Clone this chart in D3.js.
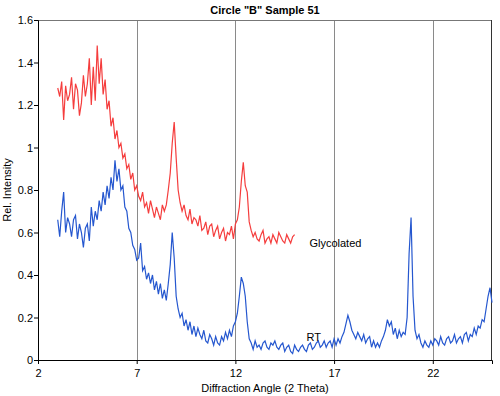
<!DOCTYPE html>
<html>
<head>
<meta charset="utf-8">
<script src="https://cdn.jsdelivr.net/npm/d3@7"></script>
<style>
  body { margin: 0; background: #fff; }
  text { font-family: "Liberation Sans", Arial, sans-serif; fill: #000; }
</style>
</head>
<body>
<div id="chart"></div>
<script>
// x grid of both scans: start angle and step (deg 2 theta)
var scanStart = 3.0;
var scanStep = 0.1;

// Glycolated scan, 3.0 .. 15.0
var glycolated = [
  1.28,1.24,1.31,1.13,1.29,1.22,1.25,1.33,1.18,1.30,
  1.27,1.15,1.21,1.34,1.24,1.30,1.42,1.20,1.38,1.22,
  1.48,1.30,1.42,1.25,1.32,1.18,1.22,1.10,1.14,1.04,
  1.08,1.00,1.02,0.95,0.97,0.90,0.92,0.85,0.88,0.80,
  0.82,0.77,0.75,0.79,0.72,0.74,0.69,0.75,0.71,0.67,
  0.72,0.69,0.66,0.73,0.70,0.73,0.80,0.88,1.02,1.12,
  0.95,0.80,0.74,0.70,0.73,0.68,0.66,0.71,0.64,0.67,
  0.66,0.63,0.68,0.61,0.62,0.65,0.59,0.63,0.64,0.58,
  0.61,0.63,0.57,0.60,0.62,0.56,0.60,0.59,0.63,0.57,
  0.64,0.66,0.72,0.84,0.93,0.82,0.79,0.65,0.61,0.58,
  0.60,0.57,0.56,0.59,0.61,0.55,0.57,0.58,0.55,0.59,
  0.57,0.55,0.60,0.58,0.56,0.55,0.59,0.57,0.55,0.58,
  0.59
];

// RT scan, 3.0 .. 25.0
var rt = [
  0.66,0.58,0.70,0.79,0.60,0.67,0.64,0.58,0.66,0.68,
  0.57,0.64,0.60,0.53,0.62,0.64,0.56,0.72,0.63,0.70,
  0.66,0.75,0.70,0.79,0.73,0.82,0.76,0.86,0.80,0.94,
  0.84,0.90,0.80,0.82,0.72,0.70,0.62,0.60,0.54,0.52,
  0.47,0.48,0.55,0.42,0.44,0.38,0.41,0.36,0.40,0.33,
  0.37,0.31,0.36,0.29,0.33,0.28,0.36,0.45,0.60,0.48,
  0.30,0.24,0.20,0.22,0.16,0.19,0.14,0.18,0.12,0.16,
  0.11,0.15,0.12,0.10,0.14,0.09,0.08,0.12,0.10,0.07,
  0.11,0.08,0.07,0.11,0.09,0.13,0.10,0.14,0.11,0.16,
  0.18,0.22,0.30,0.39,0.36,0.30,0.18,0.10,0.08,0.05,
  0.09,0.06,0.07,0.05,0.08,0.09,0.06,0.05,0.08,0.07,
  0.09,0.06,0.05,0.07,0.08,0.04,0.06,0.07,0.04,0.03,
  0.07,0.05,0.04,0.06,0.07,0.05,0.04,0.07,0.08,0.05,
  0.06,0.08,0.09,0.06,0.07,0.09,0.06,0.08,0.09,0.06,
  0.10,0.07,0.10,0.08,0.11,0.13,0.17,0.21,0.18,0.14,
  0.12,0.10,0.13,0.11,0.09,0.12,0.08,0.10,0.11,0.06,
  0.09,0.06,0.08,0.06,0.09,0.11,0.14,0.19,0.16,0.18,
  0.12,0.15,0.10,0.14,0.11,0.13,0.12,0.20,0.50,0.67,
  0.30,0.14,0.10,0.12,0.08,0.06,0.09,0.07,0.06,0.09,
  0.07,0.10,0.09,0.07,0.11,0.08,0.07,0.10,0.11,0.08,
  0.09,0.12,0.08,0.10,0.11,0.08,0.12,0.13,0.09,0.12,
  0.11,0.15,0.12,0.16,0.15,0.19,0.18,0.24,0.30,0.34,
  0.27
];

var xTicks = [2, 7, 12, 17, 22];
var yTicks = [0, 0.2, 0.4, 0.6, 0.8, 1, 1.2, 1.4, 1.6];
var gridAngles = [7, 12, 17, 22];

// curve labels (data coords)
var curveLabels = [
  {text: "Glycolated", x: 15.75, y: 0.53},
  {text: "RT", x: 15.6, y: 0.09}
];

var W = 500, H = 396;
var margin = {top: 20, right: 8, bottom: 36, left: 38};
var width = W - margin.left - margin.right;
var height = H - margin.top - margin.bottom;

var svg = d3.select("#chart").append("svg")
    .attr("width", W)
    .attr("height", H);

var g = svg.append("g")
    .attr("transform", "translate(" + margin.left + "," + margin.top + ")");

var x = d3.scaleLinear().domain([2, 25]).range([0, width]);
var y = d3.scaleLinear().domain([0, 1.6]).range([height, 0]);

// vertical grid
g.selectAll("line.grid")
  .data(gridAngles)
  .enter().append("line")
  .attr("class", "grid")
  .attr("x1", function(d){ return Math.round(x(d)) + 0.5; })
  .attr("x2", function(d){ return Math.round(x(d)) + 0.5; })
  .attr("y1", 0)
  .attr("y2", height)
  .style("stroke", "#8a8a8a")
  .style("stroke-width", 1);

// frame top / right
g.append("line")
  .attr("x1", 0).attr("x2", width)
  .attr("y1", 0.5).attr("y2", 0.5)
  .style("stroke", "#777");
g.append("line")
  .attr("x1", width - 0.5).attr("x2", width - 0.5)
  .attr("y1", 0).attr("y2", height)
  .style("stroke", "#333");

function toPoints(vals){
  return vals.map(function(v, i){ return [scanStart + i * scanStep, v]; });
}

var line = d3.line()
    .x(function(d){ return x(d[0]); })
    .y(function(d){ return y(d[1]); });

g.append("path")
  .datum(toPoints(rt))
  .attr("d", line)
  .style("fill", "none")
  .style("stroke", "#2557cf")
  .style("stroke-width", 1.2);

g.append("path")
  .datum(toPoints(glycolated))
  .attr("d", line)
  .style("fill", "none")
  .style("stroke", "#f53d3d")
  .style("stroke-width", 1.2);

// axes
var xAxis = d3.axisBottom(x).tickValues(xTicks).tickSize(4).tickFormat(d3.format("~g"));
var yAxis = d3.axisLeft(y).tickValues(yTicks).tickSize(4).tickFormat(d3.format("~g"));

var gx = g.append("g")
  .attr("transform", "translate(0," + height + ")")
  .call(xAxis);
gx.select(".domain").style("stroke", "#000");
gx.selectAll("text").style("font-size", "11px").attr("y", 9).attr("dy", "0.71em");

var gy = g.append("g").call(yAxis);
gy.select(".domain").style("stroke", "#000");
gy.selectAll("text").style("font-size", "11px").attr("x", -5);

// curve labels
g.selectAll("text.curve")
  .data(curveLabels)
  .enter().append("text")
  .attr("class", "curve")
  .attr("x", function(d){ return x(d.x); })
  .attr("y", function(d){ return y(d.y); })
  .style("font-size", "11px")
  .text(function(d){ return d.text; });

// title and axis titles
svg.append("text")
  .attr("x", margin.left + width / 2)
  .attr("y", 14)
  .attr("text-anchor", "middle")
  .style("font-size", "11px")
  .style("font-weight", "bold")
  .text('Circle "B" Sample 51');

svg.append("text")
  .attr("x", margin.left + width / 2)
  .attr("y", 392)
  .attr("text-anchor", "middle")
  .style("font-size", "11px")
  .text("Diffraction Angle (2 Theta)");

svg.append("text")
  .attr("transform", "translate(11," + (margin.top + height / 2) + ") rotate(-90)")
  .attr("text-anchor", "middle")
  .style("font-size", "11px")
  .text("Rel. Intensity");
</script>
</body>
</html>
